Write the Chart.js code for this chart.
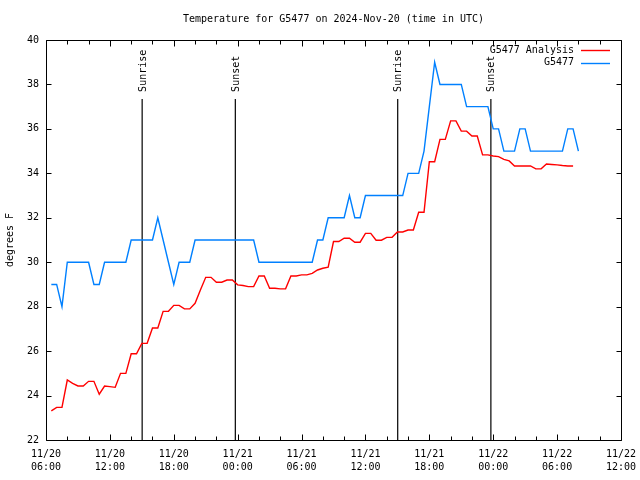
<!DOCTYPE html>
<html>
<head>
<meta charset="utf-8">
<script src="https://cdn.jsdelivr.net/npm/chart.js@4/dist/chart.umd.min.js"></script>
<style>
html,body{margin:0;padding:0;background:#fff;}
canvas{display:block;}
</style>
</head>
<body>
<canvas id="c" width="640" height="480"></canvas>
<script>
// ---- DATA ----
const chartTitle = 'Temperature for G5477 on 2024-Nov-20 (time in UTC)';
const yAxisTitle = 'degrees F';
// x axis: hours since 11/20 06:00 UTC
const xMin = 0, xMax = 54;
const xTickLabels = [
  ['11/20','06:00'],['11/20','12:00'],['11/20','18:00'],
  ['11/21','00:00'],['11/21','06:00'],['11/21','12:00'],['11/21','18:00'],
  ['11/22','00:00'],['11/22','06:00'],['11/22','12:00']
];
const yMin = 22, yMax = 40;

// samples every half hour, first sample at 06:30 on 11/20
const sampleStartHour = 0.5;
const sampleStepHours = 0.5;

const analysisLabel = 'G5477 Analysis';
const analysisValues = [
  23.31,23.47,23.47,24.70,24.55,24.43,24.43,24.64,24.64,24.06,
  24.43,24.40,24.37,25.00,25.00,25.88,25.88,26.35,26.35,27.04,
  27.04,27.79,27.79,28.06,28.06,27.90,27.90,28.15,28.75,29.32,
  29.32,29.10,29.10,29.20,29.20,28.98,28.95,28.90,28.90,29.38,
  29.38,28.83,28.83,28.80,28.80,29.38,29.38,29.43,29.43,29.50,
  29.65,29.73,29.78,30.93,30.93,31.08,31.08,30.90,30.90,31.30,
  31.30,30.99,30.99,31.12,31.12,31.36,31.36,31.45,31.45,32.25,
  32.25,34.52,34.52,35.53,35.53,36.36,36.36,35.90,35.90,35.68,
  35.68,34.83,34.83,34.78,34.75,34.63,34.56,34.33,34.33,34.33,
  34.33,34.20,34.20,34.42,34.40,34.38,34.35,34.33,34.33
];

const stationLabel = 'G5477';
const stationValues = [
  29,29,28,30,30,30,30,30,29,29,
  30,30,30,30,30,31,31,31,31,31,
  32,31,30,29,30,30,30,31,31,31,
  31,31,31,31,31,31,31,31,31,30,
  30,30,30,30,30,30,30,30,30,30,
  31,31,32,32,32,32,33,32,32,33,
  33,33,33,33,33,33,33,34,34,34,
  35,37,39,38,38,38,38,38,37,37,
  37,37,37,36,36,35,35,35,36,36,
  35,35,35,35,35,35,35,36,36,35
];

const sunTimes  = [9.03, 17.78, 33.03, 41.78];
const sunLabels = ['Sunrise','Sunset','Sunrise','Sunset'];
const sunLineTop = 37.35;

// ---- BUILD ----
const FONT = '"DejaVu Sans Mono", "Liberation Mono", monospace';
function toPoints(vals){
  return vals.map((v,i)=>({x: sampleStartHour + i*sampleStepHours, y: v}));
}
const datasets = [
  {label: analysisLabel, data: toPoints(analysisValues), borderColor:'#ff0000', borderWidth:1.4, pointRadius:0, tension:0, fill:false},
  {label: stationLabel, data: toPoints(stationValues), borderColor:'#0080ff', borderWidth:1.4, pointRadius:0, tension:0, fill:false}
];
sunTimes.forEach((t,i)=>{
  datasets.push({label: sunLabels[i], data:[{x:t,y:yMin},{x:t,y:sunLineTop}], borderColor:'#000', borderWidth:1.2, pointRadius:0, fill:false});
});

const decor = {
  id:'decor',
  beforeDraw(chart){
    const c = chart.ctx;
    c.save(); c.fillStyle='#fff'; c.fillRect(0,0,chart.width,chart.height); c.restore();
  },
  afterDraw(chart){
    const c = chart.ctx, a = chart.chartArea, xs = chart.scales.x, ys = chart.scales.y;
    c.save();
    c.strokeStyle='#000'; c.lineWidth=1;
    const L=Math.round(a.left)+0.5, R=Math.round(a.right)+0.5, T=Math.round(a.top)+0.5, B=Math.round(a.bottom)+0.5;
    c.beginPath(); c.rect(L,T,R-L,B-T); c.stroke();
    c.beginPath();
    for(let v=xMin; v<=xMax; v+=2){
      const px = Math.round(xs.getPixelForValue(v))+0.5;
      const len = (v%6===0)?6:4;
      c.moveTo(px,B); c.lineTo(px,B-len);
      c.moveTo(px,T); c.lineTo(px,T+len);
    }
    for(let v=yMin; v<=yMax; v+=2){
      const py = Math.round(ys.getPixelForValue(v))+0.5;
      c.moveTo(L,py); c.lineTo(L+5,py);
      c.moveTo(R,py); c.lineTo(R-5,py);
    }
    c.stroke();
    c.fillStyle='#000';
    c.font='10px '+FONT;
    c.textAlign='center'; c.textBaseline='middle';
    c.fillText(chartTitle, (a.left+a.right)/2, 19);
    c.save(); c.translate(10, (a.top+a.bottom)/2); c.rotate(-Math.PI/2);
    c.fillText(yAxisTitle, 0, 0); c.restore();
    sunTimes.forEach((t,i)=>{
      const px = xs.getPixelForValue(t);
      const py = ys.getPixelForValue(sunLineTop) - 7;
      c.save(); c.translate(px+1, py); c.rotate(-Math.PI/2);
      c.textAlign='left'; c.textBaseline='middle';
      c.fillText(sunLabels[i], 0, 0); c.restore();
    });
    const legend = [[analysisLabel,'#ff0000'],[stationLabel,'#0080ff']];
    legend.forEach((e,i)=>{
      const y = 50 + i*12.7;
      c.textAlign='right'; c.textBaseline='middle'; c.fillStyle='#000';
      c.fillText(e[0], 574, y);
      c.strokeStyle=e[1]; c.lineWidth=1.4;
      c.beginPath(); c.moveTo(581, Math.round(y)+0.5); c.lineTo(610, Math.round(y)+0.5); c.stroke();
    });
    c.restore();
  }
};

new Chart(document.getElementById('c'), {
  type:'line',
  data:{datasets},
  options:{
    responsive:false, animation:false, devicePixelRatio:1,
    layout:{autoPadding:false, padding:{left:0,right:19,top:40,bottom:0}},
    plugins:{legend:{display:false}, title:{display:false}, tooltip:{enabled:false}},
    scales:{
      x:{type:'linear', min:xMin, max:xMax,
         grid:{display:false, drawTicks:false}, border:{display:false},
         ticks:{stepSize:2, autoSkip:false, maxRotation:0, minRotation:0, padding:8, color:'#000',
                font:{family:FONT, size:10, lineHeight:1.3},
                callback:(v)=> (v%6===0) ? xTickLabels[v/6] : ''},
         afterFit:(s)=>{s.height=40; s.paddingLeft=0; s.paddingRight=0;}},
      y:{type:'linear', min:yMin, max:yMax,
         grid:{display:false, drawTicks:false}, border:{display:false},
         ticks:{stepSize:2, padding:7, color:'#000', font:{family:FONT, size:10}},
         afterFit:(s)=>{s.width=46; s.paddingTop=0; s.paddingBottom=0;}}
    }
  },
  plugins:[decor]
});
</script>
</body>
</html>
